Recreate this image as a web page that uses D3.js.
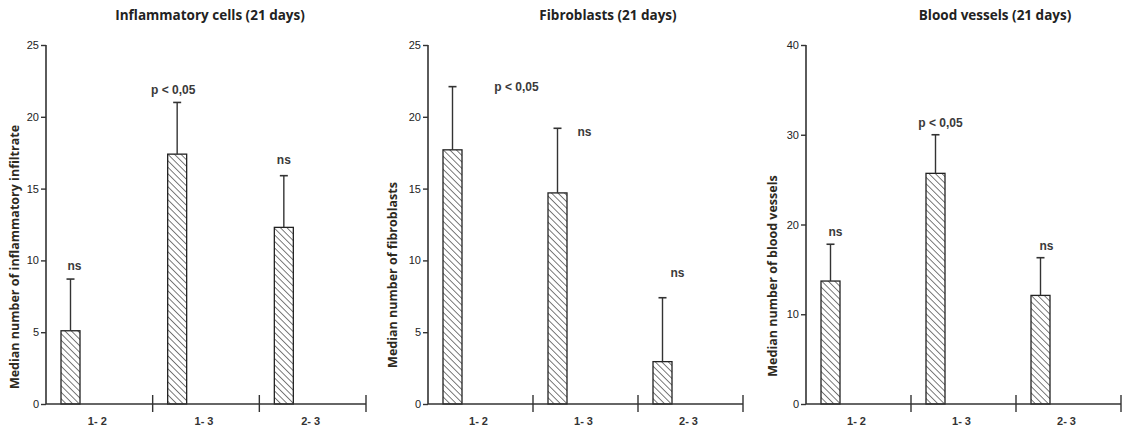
<!DOCTYPE html>
<html><head><meta charset="utf-8">
<script src="https://cdn.jsdelivr.net/npm/d3@7"></script>
<style>
body{margin:0;background:#fff;}
svg{display:block;}
.tick text{font-family:"Liberation Sans Narrow","Arial Narrow","Liberation Sans",sans-serif;font-size:11px;fill:#222;}
</style></head>
<body><svg id="chart" width="1128" height="431"></svg>
<script>
const categories = ["1-2","1-3","2-3"];

const titles = ["Inflammatory cells (21 days)","Fibroblasts (21 days)","Blood vessels (21 days)"];
const yLabels = ["Median number of inflammatory infiltrate","Median number of fibroblasts","Median number of blood vessels"];
const yMax = [25, 25, 40];
const yTicks = [[0,5,10,15,20,25],[0,5,10,15,20,25],[0,10,20,30,40]];

const inflammatoryValues = [5.1, 17.4, 12.3];
const inflammatoryErrTop = [8.7, 21.0, 15.9];
const inflammatoryNotes = ["ns","p < 0,05","ns"];

const fibroblastValues = [17.7, 14.7, 2.95];
const fibroblastErrTop = [22.1, 19.2, 7.4];
const fibroblastNotes = ["p < 0,05","ns","ns"];

const vesselValues = [13.7, 25.7, 12.1];
const vesselErrTop = [17.8, 30.0, 16.3];
const vesselNotes = ["ns","p < 0,05","ns"];

const svg = d3.select("#chart");
const defs = svg.append("defs");
const pat = defs.append("pattern").attr("id","hatch").attr("patternUnits","userSpaceOnUse")
  .attr("width",4.6).attr("height",4.6).attr("patternTransform","rotate(-45)");
pat.append("rect").attr("width",4.6).attr("height",4.6).attr("fill","#fff");
pat.append("line").attr("x1",0).attr("y1",0).attr("x2",0).attr("y2",4.6).attr("stroke","#333").attr("stroke-width",1.3);

const panels = [
  {x0:46, x1:366, values:inflammatoryValues, err:inflammatoryErrTop, notes:inflammatoryNotes,
   noteDx:[4,-4,0], noteY:[265.7,90,160], titleX:210, ylabX:15, ylabY:257},
  {x0:428, x1:743, values:fibroblastValues, err:fibroblastErrTop, notes:fibroblastNotes,
   noteDx:[64,27,15], noteY:[87,132,273], titleX:608, ylabX:393, ylabY:275},
  {x0:806, x1:1121, values:vesselValues, err:vesselErrTop, notes:vesselNotes,
   noteDx:[5,5,6], noteY:[232,123,246], titleX:995, ylabX:773, ylabY:276}
];

const plotTop = 45, plotBottom = 404;

panels.forEach((p, i) => {
  const g = svg.append("g");
  const y = d3.scaleLinear().domain([0, yMax[i]]).range([plotBottom, plotTop]);
  const x = d3.scaleBand().domain(categories).range([p.x0, p.x1]);
  const bw = 19, off = 15;

  g.selectAll("rect.bar").data(p.values).join("rect")
    .attr("x",(d,j)=>x(categories[j])+off)
    .attr("y",d=>y(d))
    .attr("width",bw)
    .attr("height",d=>plotBottom-y(d))
    .attr("fill","url(#hatch)")
    .attr("stroke","#222").attr("stroke-width",1.3);

  g.selectAll("line.err").data(p.err).join("line")
    .attr("x1",(d,j)=>x(categories[j])+off+bw/2)
    .attr("x2",(d,j)=>x(categories[j])+off+bw/2)
    .attr("y1",(d,j)=>y(p.values[j]))
    .attr("y2",d=>y(d))
    .attr("stroke","#333").attr("stroke-width",1.4);
  g.selectAll("line.cap").data(p.err).join("line")
    .attr("x1",(d,j)=>x(categories[j])+off+bw/2-4)
    .attr("x2",(d,j)=>x(categories[j])+off+bw/2+4)
    .attr("y1",d=>y(d)).attr("y2",d=>y(d))
    .attr("stroke","#333").attr("stroke-width",1.6);

  g.selectAll("text.note").data(p.notes).join("text")
    .attr("x",(d,j)=>x(categories[j])+off+bw/2+p.noteDx[j])
    .attr("y",(d,j)=>p.noteY[j])
    .attr("dy","0.35em")
    .attr("text-anchor","middle")
    .style("font-family","'Liberation Sans Narrow','Arial Narrow',sans-serif")
    .style("font-size","12px").style("font-weight","bold").attr("fill","#3a3a3a")
    .text(d=>d);

  const ya = g.append("g").attr("transform",`translate(${p.x0},0)`)
    .call(d3.axisLeft(y).tickValues(yTicks[i]).tickSize(5).tickPadding(2));
  ya.select(".domain").attr("stroke","#333").attr("stroke-width",1.6).attr("d",`M0,${plotBottom}V${plotTop}`);
  ya.selectAll(".tick line").attr("stroke","#333").attr("stroke-width",1.4);

  g.append("line").attr("x1",p.x0).attr("x2",p.x1).attr("y1",plotBottom).attr("y2",plotBottom)
    .attr("stroke","#333").attr("stroke-width",1.6);
  g.selectAll("line.sep").data(categories).join("line")
    .attr("x1",d=>x(d)+x.bandwidth()).attr("x2",d=>x(d)+x.bandwidth())
    .attr("y1",plotBottom-9).attr("y2",plotBottom+8)
    .attr("stroke","#333").attr("stroke-width",1.4);
  g.selectAll("text.cat").data(categories).join("text")
    .attr("x",d=>x(d)+x.bandwidth()/2-2)
    .attr("y",plotBottom+17).attr("dy","0.35em")
    .attr("text-anchor","middle")
    .style("font-family","'Liberation Sans Narrow','Arial Narrow',sans-serif")
    .style("font-size","11px").style("font-weight","bold").attr("fill","#333")
    .text(d=>d.replace("-","- "));

  g.append("text").attr("x",p.titleX).attr("y",15).attr("dy","0.35em")
    .attr("text-anchor","middle")
    .style("font-family","'Open Sans',Lato,sans-serif").style("font-size","13.5px").style("font-weight","bold")
    .attr("fill","#222").text(titles[i]);

  g.append("text").attr("transform",`translate(${p.ylabX},${p.ylabY}) rotate(-90)`)
    .attr("dy","0.35em").attr("text-anchor","middle")
    .style("font-family","'Open Sans',Lato,sans-serif").style("font-size","12.5px").style("font-weight","bold")
    .attr("fill","#2e2a1e").text(yLabels[i]);
});
</script></body></html>
